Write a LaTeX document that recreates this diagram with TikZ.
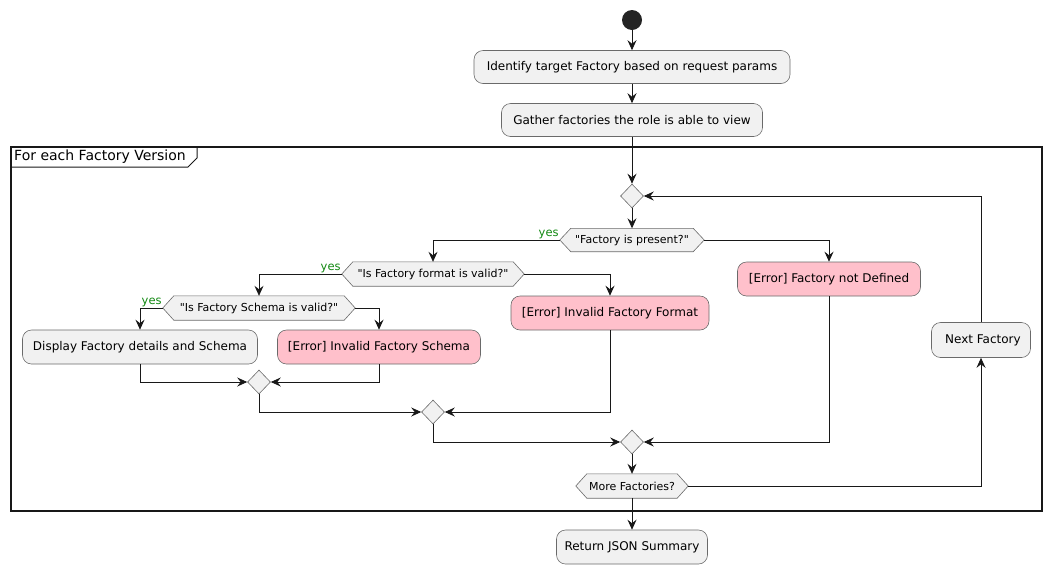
\documentclass[tikz,border=0pt]{standalone}
\usepackage{fontspec}
\setmainfont{DejaVu Sans}
\usetikzlibrary{arrows.meta,shapes.geometric,backgrounds}
\definecolor{boxfill}{HTML}{F1F1F1}
\definecolor{boxline}{HTML}{6A6A6A}
\definecolor{errfill}{HTML}{FFC0CB}
\definecolor{linecol}{HTML}{181818}
\definecolor{yesgreen}{HTML}{118811}
\tikzset{
  act/.style={draw=boxline, fill=boxfill, line width=0.6pt, rounded corners=9pt, inner sep=0pt, font=\fontsize{12}{14}\selectfont},
  err/.style={act, fill=errfill},
  hexnode/.style={inner sep=0pt, font=\fontsize{11}{13}\selectfont},
  hexline/.style={draw=boxline, fill=boxfill, line width=0.6pt},
  merge/.style={diamond, draw=boxline, fill=boxfill, line width=0.6pt, inner sep=0pt, minimum width=23pt, minimum height=24pt},
  arr/.style={draw=linecol, line width=0.8pt, -{Stealth[length=10pt,width=9pt,inset=3.5pt]}},
  yeslbl/.style={text=yesgreen, inner sep=0pt, font=\fontsize{11.5}{12}\selectfont}
}
\newcommand{\hexdraw}[1]{%
  \begin{pgfonlayer}{background}
  \path[hexline] (#1.west) -- ([xshift=11pt]#1.north west) -- ([xshift=-11pt]#1.north east) -- (#1.east) -- ([xshift=-11pt]#1.south east) -- ([xshift=11pt]#1.south west) -- cycle;
  \end{pgfonlayer}}
\newcommand{\qq}{\textquotedbl}
\begin{document}
\begin{tikzpicture}[x=1pt,y=-1pt]
\useasboundingbox (0,0) rectangle (1051,574);
% frame
\draw[draw=linecol, line width=1.3pt] (11,147) rectangle (1042,511);
\draw[draw=linecol, line width=1pt] (11,167) -- (188,167) -- (197,158) -- (197,147);
\node[anchor=west, inner sep=0pt, font=\fontsize{14}{16}\selectfont] (ftitle) at (14,157) {For each Factory Version};

% nodes
\node[circle, fill=linecol!95!white, minimum size=20pt, inner sep=0pt] (start) at (632,20) {};
\node[act, minimum width=316pt, minimum height=33pt] (id) at (632,67) {Identify target Factory based on request params};
\node[act, minimum width=261pt, minimum height=33pt] (ga) at (632,120) {Gather factories the role is able to view};
\node[merge] (m1) at (632,196) {};
\node[hexnode, minimum width=144pt, minimum height=23pt] (d1) at (632,240) {\qq Factory is present?\qq};
\node[hexnode, minimum width=182pt, minimum height=24pt] (d2) at (433,274) {\qq Is Factory format is valid?\qq};
\node[hexnode, minimum width=192pt, minimum height=24pt] (d3) at (259,308) {\qq Is Factory Schema is valid?\qq};
\node[err, minimum width=183pt, minimum height=34pt] (nd) at (829,279) {[Error] Factory not Defined};
\node[err, minimum width=198pt, minimum height=34pt] (iff) at (610,313) {[Error] Invalid Factory Format};
\node[act, minimum width=235pt, minimum height=34pt] (disp) at (140,347) {Display Factory details and Schema};
\node[err, minimum width=203pt, minimum height=34pt] (ifs) at (379,347) {[Error] Invalid Factory Schema};
\node[merge] (m2) at (259,382) {};
\node[merge] (m3) at (433,412) {};
\node[merge] (m4) at (632,442) {};
\node[hexnode, minimum width=112pt, minimum height=24pt] (more) at (632,486) {More Factories?};
\node[act, minimum width=99pt, minimum height=35pt] (next) at (981,340) {\hspace{3.8pt}Next Factory};
\node[act, minimum width=151pt, minimum height=34pt] (ret) at (632,547) {Return JSON Summary};
\hexdraw{d1}
\hexdraw{d2}
\hexdraw{d3}
\hexdraw{more}

% yes labels
\node[yeslbl, anchor=south east] (y1) at ([xshift=-1pt,yshift=0.5pt]d1.west) {yes};
\node[yeslbl, anchor=south east] (y2) at ([xshift=-1pt,yshift=0.5pt]d2.west) {yes};
\node[yeslbl, anchor=south east] (y3) at ([xshift=-1pt,yshift=0.5pt]d3.west) {yes};

% connectors
\draw[arr] (start) -- (id);
\draw[arr] (id) -- (ga);
\draw[arr] (ga) -- (m1);
\draw[arr] (m1) -- (d1);
\draw[arr] (d1.west) -| (d2.north);
\draw[arr] (d1.east) -| (nd.north);
\draw[arr] (d2.west) -| (d3.north);
\draw[arr] (d2.east) -| (iff.north);
\draw[arr] (d3.west) -| (disp.north);
\draw[arr] (d3.east) -| (ifs.north);
\draw[arr] (disp.south) |- (m2.west);
\draw[arr] (ifs.south) |- (m2.east);
\draw[arr] (m2.south) |- (m3.west);
\draw[arr] (iff.south) |- (m3.east);
\draw[arr] (m3.south) |- (m4.west);
\draw[arr] (nd.south) |- (m4.east);
\draw[arr] (m4) -- (more);
\draw[arr] (more.east) -| (next.south);
\draw[arr] (next.north) |- (m1.east);
\draw[arr] (more) -- (ret);
\end{tikzpicture}
\end{document}
